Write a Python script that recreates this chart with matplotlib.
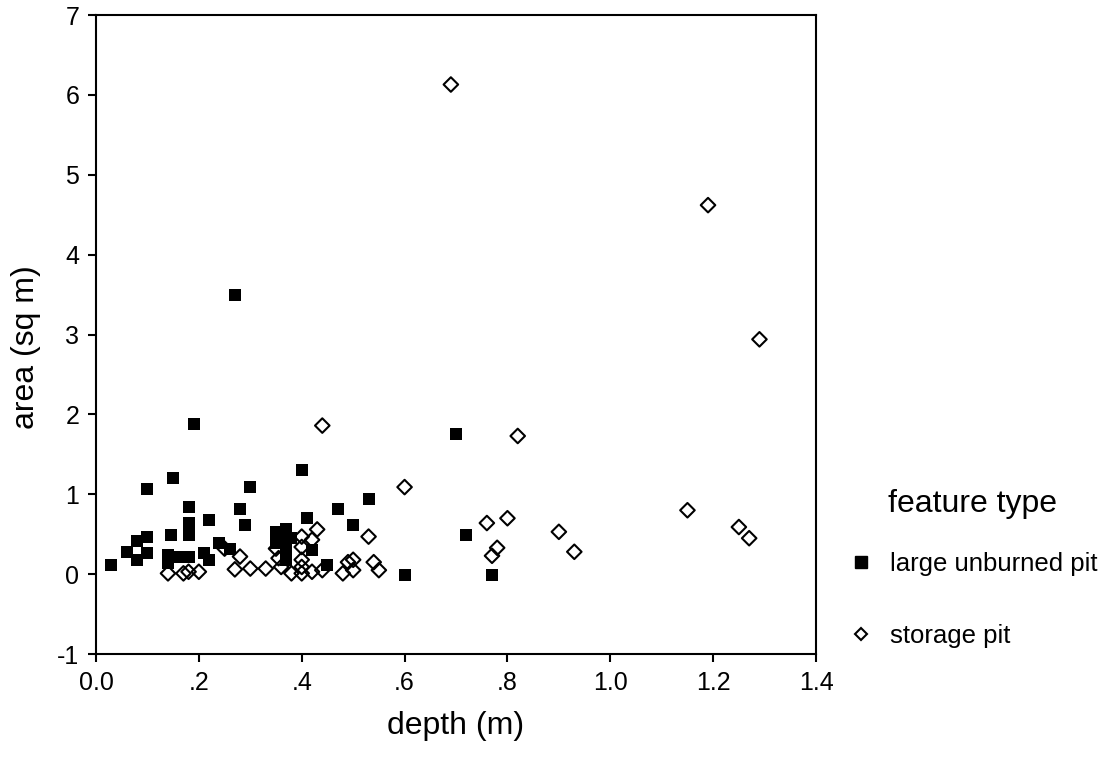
import matplotlib
matplotlib.use("Agg")
import matplotlib.pyplot as plt
from matplotlib.lines import Line2D

plt.rcParams["font.family"] = ["Liberation Sans", "DejaVu Sans"]
plt.rcParams["axes.unicode_minus"] = False

# large unburned pit: depth (m), area (sq m)
pit_depth = [0.03, 0.06, 0.08, 0.08, 0.10, 0.10, 0.10, 0.15, 0.145, 0.14,
             0.14, 0.16, 0.18, 0.18, 0.18, 0.18, 0.19, 0.21, 0.22, 0.22,
             0.24, 0.26, 0.27, 0.28, 0.29, 0.30, 0.35, 0.35, 0.37, 0.37,
             0.38, 0.37, 0.37, 0.40, 0.41, 0.42, 0.45, 0.47, 0.50, 0.53,
             0.60, 0.70, 0.72, 0.77]
pit_area = [0.12, 0.28, 0.18, 0.41, 1.07, 0.47, 0.27, 1.20, 0.49, 0.24,
            0.14, 0.22, 0.21, 0.84, 0.64, 0.49, 1.88, 0.27, 0.68, 0.18,
            0.39, 0.32, 3.50, 0.82, 0.62, 1.09, 0.53, 0.39, 0.57, 0.45,
            0.45, 0.30, 0.18, 1.30, 0.70, 0.30, 0.12, 0.82, 0.62, 0.94,
            -0.01, 1.76, 0.49, -0.01]

# storage pit
sto_depth = [0.14, 0.17, 0.18, 0.20, 0.25, 0.28, 0.27, 0.30, 0.33, 0.35,
             0.355, 0.36, 0.38, 0.40, 0.40, 0.42, 0.40, 0.40, 0.40, 0.42,
             0.43, 0.44, 0.44, 0.48, 0.49, 0.50, 0.50, 0.53, 0.54, 0.55,
             0.60, 0.69, 0.76, 0.77, 0.78, 0.80, 0.82, 0.90, 0.93, 1.15,
             1.19, 1.25, 1.27, 1.29]
sto_area = [0.01, 0.01, 0.03, 0.03, 0.32, 0.22, 0.06, 0.07, 0.07, 0.32,
            0.20, 0.09, 0.01, 0.47, 0.34, 0.43, 0.18, 0.09, 0.01, 0.03,
            0.56, 0.05, 1.86, 0.01, 0.15, 0.18, 0.05, 0.47, 0.15, 0.05,
            1.09, 6.13, 0.64, 0.23, 0.33, 0.70, 1.73, 0.53, 0.28, 0.80,
            4.62, 0.59, 0.45, 2.94]

xticks = [0.0, 0.2, 0.4, 0.6, 0.8, 1.0, 1.2, 1.4]
xtick_labels = ["0.0", ".2", ".4", ".6", ".8", "1.0", "1.2", "1.4"]
yticks = [-1, 0, 1, 2, 3, 4, 5, 6, 7]

fig = plt.figure(figsize=(11.11, 7.59), dpi=100)
ax = fig.add_axes([0.0864, 0.1383, 0.6481, 0.8419])

ax.scatter(sto_depth, sto_area, marker="D", s=55, facecolors="none",
           edgecolors="black", linewidths=1.5, zorder=2)
ax.scatter(pit_depth, pit_area, marker="s", s=74, color="black",
           linewidths=0, zorder=3)

ax.set_xlim(0, 1.4)
ax.set_ylim(-1, 7)
ax.set_xticks(xticks)
ax.set_xticklabels(xtick_labels)
ax.set_yticks(yticks)
ax.tick_params(direction="out", length=6, width=1.5, labelsize=18,
               pad=6)
for sp in ax.spines.values():
    sp.set_linewidth(1.5)

ax.set_xlabel("depth (m)", fontsize=23, labelpad=12)
ax.set_ylabel("area (sq m)", fontsize=23)
ax.yaxis.set_label_coords(-0.077, 0.48)

handles = [Line2D([], [], marker="s", color="black", linestyle="none",
                  markersize=8),
           Line2D([], [], marker="D", markerfacecolor="none",
                  markeredgecolor="black", markeredgewidth=1.5,
                  linestyle="none", markersize=6)]
leg = fig.legend(handles, ["large unburned pit", "storage pit"],
                 title="feature type", loc="center left",
                 bbox_to_anchor=(0.743, 0.251), frameon=False,
                 fontsize=18.5, title_fontsize=23, labelspacing=1.85,
                 handletextpad=0.6, handlelength=1.0)
leg._legend_box.sep = 24

fig.savefig("out.png", dpi=100)
